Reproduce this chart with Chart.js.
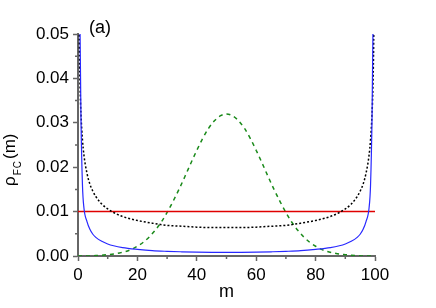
<!DOCTYPE html>
<html>
<head>
<meta charset="utf-8">
<script src="https://cdn.jsdelivr.net/npm/chart.js@4/dist/chart.umd.min.js"></script>
<style>
html, body { margin: 0; padding: 0; background: #fff; }
</style>
</head>
<body>
<canvas id="chart" width="436" height="308"></canvas>
<script>
// m grid for the two U-shaped curves
const mEdge = [0.3, 0.5, 0.7, 1, 1.5, 2, 3, 4, 5, 6, 8, 10, 12, 15, 20, 25, 30, 35, 40, 45, 50,
               55, 60, 65, 70, 75, 80, 85, 88, 90, 92, 94, 95, 96, 97, 98, 98.5, 99, 99.3, 99.5, 99.7];
const rhoBlack = [0.058, 0.045, 0.038, 0.032, 0.0262, 0.0227, 0.0187, 0.0162, 0.0146, 0.0134, 0.0117, 0.0106, 0.0098, 0.0089, 0.0080, 0.0074, 0.0069, 0.0067, 0.0065, 0.0064, 0.0064,
                  0.0064, 0.0065, 0.0067, 0.0069, 0.0074, 0.0080, 0.0089, 0.0098, 0.0106, 0.0117, 0.0134, 0.0146, 0.0162, 0.0187, 0.0227, 0.0262, 0.032, 0.038, 0.045, 0.058];
const rhoBlue = [0.12, 0.075, 0.05, 0.031, 0.016, 0.0108, 0.0078, 0.006, 0.0049, 0.0042, 0.0033, 0.0027, 0.0023, 0.0019, 0.0015, 0.0012, 0.00105, 0.00095, 0.00087, 0.00082, 0.0008,
                 0.00082, 0.00087, 0.00095, 0.00105, 0.0012, 0.0015, 0.0019, 0.0023, 0.0027, 0.0033, 0.0042, 0.0049, 0.006, 0.0078, 0.0108, 0.016, 0.031, 0.05, 0.075, 0.12];

// green bell curve, m = 0, 2, ..., 100
const mGreen = [0, 2, 4, 6, 8, 10, 12, 14, 16, 18, 20, 22, 24, 26, 28, 30, 32, 34, 36, 38, 40, 42, 44, 46, 48, 50,
                52, 54, 56, 58, 60, 62, 64, 66, 68, 70, 72, 74, 76, 78, 80, 82, 84, 86, 88, 90, 92, 94, 96, 98, 100];
const rhoGreen = [0, 0, 0.00001, 0.0001, 0.00017, 0.0003, 0.00045, 0.0007, 0.001, 0.0015, 0.0022, 0.0031, 0.0043, 0.0058, 0.0076, 0.0098, 0.0123, 0.015, 0.0179, 0.0209, 0.0238, 0.0265, 0.0288, 0.0305, 0.0316, 0.032,
                  0.0316, 0.0305, 0.0288, 0.0265, 0.0238, 0.0209, 0.0179, 0.015, 0.0123, 0.0098, 0.0076, 0.0058, 0.0043, 0.0031, 0.0022, 0.0015, 0.001, 0.0007, 0.00045, 0.0003, 0.00017, 0.0001, 0.00001, 0, 0];

// flat red line
const mRed = [0, 100];
const rhoRed = [0.01, 0.01];

const xTicks = [0, 20, 40, 60, 80, 100];
const yTicks = [0, 0.01, 0.02, 0.03, 0.04, 0.05];

const FONT = "'Liberation Sans', Arial, sans-serif";
const AXIS = '#666';

const pts = (xs, ys) => xs.map((x, i) => ({ x: x, y: ys[i] }));

// minor ticks, y title with subscript and the panel label
const extras = {
    id: 'extras',
    afterDraw(chart) {
        const ctx = chart.ctx;
        const xs = chart.scales.x, ys = chart.scales.y;
        const area = chart.chartArea;
        ctx.save();
        ctx.strokeStyle = AXIS;
        ctx.lineWidth = 1.5;
        ctx.beginPath();
        for (let v = 0.005; v < 0.05; v += 0.01) {
            const py = ys.getPixelForValue(v);
            ctx.moveTo(area.left, py);
            ctx.lineTo(area.left - 3, py);
        }
        for (let v = 10; v < 100; v += 20) {
            const px = xs.getPixelForValue(v);
            ctx.moveTo(px, area.bottom);
            ctx.lineTo(px, area.bottom + 3);
        }
        ctx.stroke();

        ctx.fillStyle = '#000';
        ctx.textBaseline = 'alphabetic';
        ctx.textAlign = 'left';
        ctx.font = '18px ' + FONT;
        ctx.fillText('(a)', 89, 33);

        // rho_FC(m), rotated
        ctx.translate(15, 186);
        ctx.rotate(-Math.PI / 2);
        ctx.font = '17px ' + FONT;
        let w = ctx.measureText('ρ').width + 1;
        ctx.fillText('ρ', 0, 0);
        ctx.font = '10px ' + FONT;
        ctx.fillText('F', w, 6);
        w += ctx.measureText('F').width + 1;
        ctx.fillText('C', w, 6);
        w += ctx.measureText('C').width + 2;
        ctx.font = '17px ' + FONT;
        ctx.fillText('(m)', w, 0);
        ctx.restore();
    }
};

new Chart(document.getElementById('chart').getContext('2d'), {
    type: 'line',
    data: {
        datasets: [
            { data: pts(mEdge, rhoBlue), borderColor: '#2828ff', borderWidth: 1.2, cubicInterpolationMode: 'monotone' },
            { data: pts(mEdge, rhoBlack), borderColor: '#000', borderWidth: 1.5, borderDash: [2, 2], cubicInterpolationMode: 'monotone' },
            { data: pts(mRed, rhoRed), borderColor: '#e00000', borderWidth: 1.5 },
            { data: pts(mGreen, rhoGreen), borderColor: '#1a8a1a', borderWidth: 1.5, borderDash: [4, 4], cubicInterpolationMode: 'monotone' }
        ]
    },
    options: {
        responsive: false,
        animation: false,
        layout: { padding: { left: 0, right: 61, top: 34, bottom: 0 } },
        elements: { point: { radius: 0 } },
        plugins: { legend: { display: false }, tooltip: { enabled: false } },
        scales: {
            x: {
                type: 'linear', min: 0, max: 100,
                afterBuildTicks: s => { s.ticks = xTicks.map(v => ({ value: v })); },
                afterFit: s => { s.height = 52; },
                border: { color: AXIS, width: 2 },
                grid: { drawOnChartArea: false, drawTicks: true, tickLength: 5, tickColor: AXIS, tickWidth: 1.5 },
                ticks: { color: '#000', font: { family: FONT, size: 17 }, padding: 4, maxRotation: 0 },
                title: { display: true, text: 'm', color: '#000', font: { family: FONT, size: 18 }, padding: { top: 0, bottom: 5 } }
            },
            y: {
                min: 0, max: 0.05,
                afterBuildTicks: s => { s.ticks = yTicks.map(v => ({ value: v })); },
                afterFit: s => { s.width = 78; },
                border: { color: AXIS, width: 2 },
                grid: { drawOnChartArea: false, drawTicks: true, tickLength: 5, tickColor: AXIS, tickWidth: 1.5 },
                ticks: { color: '#000', font: { family: FONT, size: 17 }, padding: 4, callback: v => v.toFixed(2) }
            }
        }
    },
    plugins: [extras]
});
</script>
</body>
</html>
